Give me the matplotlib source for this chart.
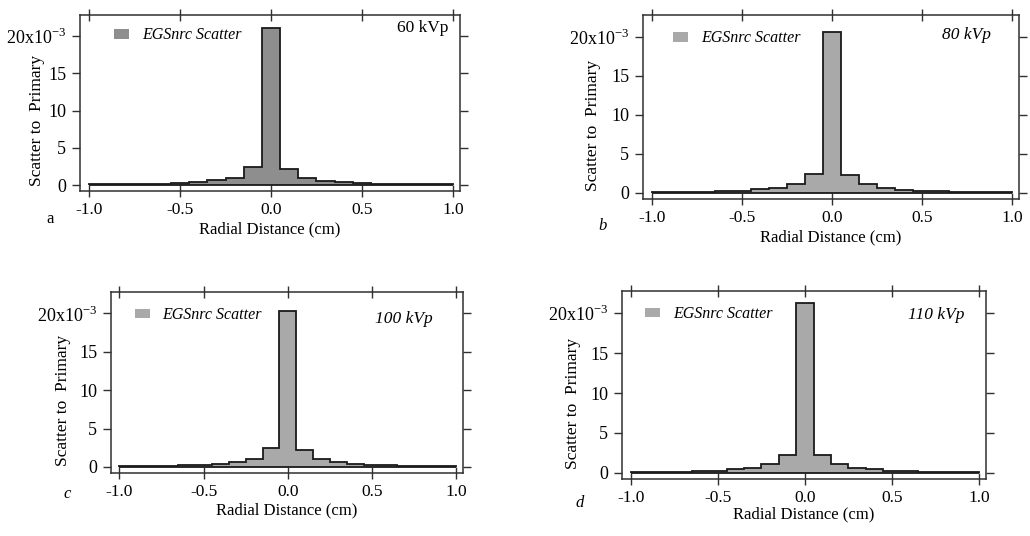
import matplotlib
matplotlib.use("Agg")
import matplotlib.pyplot as plt
from matplotlib.patches import Patch

plt.rcParams["font.family"] = ["Liberation Serif", "DejaVu Serif"]
plt.rcParams["mathtext.fontset"] = "custom"
plt.rcParams["mathtext.rm"] = "Liberation Serif"

# Radial bin edges (cm) and scatter-to-primary ratios (x1e-3)
edges_60 = [-1.0, -0.55, -0.45, -0.35, -0.25, -0.15, -0.05, 0.05, 0.15, 0.25, 0.35, 0.45, 0.55, 1.0]
edges_hi = [-1.0, -0.65, -0.45, -0.35, -0.25, -0.15, -0.05, 0.05, 0.15, 0.25, 0.35, 0.45, 0.65, 1.0]

spr_60kvp = [0.13, 0.27, 0.40, 0.63, 0.98, 2.37, 21.1, 2.15, 0.95, 0.60, 0.40, 0.25, 0.13]
spr_80kvp = [0.13, 0.22, 0.43, 0.65, 1.08, 2.45, 20.6, 2.24, 1.08, 0.65, 0.39, 0.22, 0.13]
spr_100kvp = [0.13, 0.26, 0.43, 0.60, 1.04, 2.43, 20.3, 2.20, 1.04, 0.60, 0.43, 0.26, 0.13]
spr_110kvp = [0.13, 0.25, 0.42, 0.63, 1.09, 2.26, 21.3, 2.26, 1.09, 0.63, 0.42, 0.25, 0.13]

energies = ["60 kVp", "80 kVp", "100 kVp", "110 kVp"]
panel_letters = ["a", "b", "c", "d"]
x_ticks = [-1.0, -0.5, 0.0, 0.5, 1.0]
y_ticks = [0, 5, 10, 15, 20]
y_ticklabels = ["0", "5", "10", "15", r"20x10$^{\mathregular{-3}}$"]

panels = [
    dict(edges=edges_60, vals=spr_60kvp, color="#8e8e8e", rect=[0.0777, 0.6437, 0.369, 0.328],
         leg=(0.06, 0.994), kv=(0.968, 0.926), kv_style="normal", ylab_x=-0.112, xlab_y=-0.22,
         letter=(50, 219), letter_style="normal"),
    dict(edges=edges_hi, vals=spr_80kvp, color="#a9a9a9", rect=[0.6243, 0.6287, 0.365, 0.343],
         leg=(0.05, 0.978), kv=(0.926, 0.89), kv_style="italic", ylab_x=-0.133, xlab_y=-0.21,
         letter=(603, 226), letter_style="italic"),
    dict(edges=edges_hi, vals=spr_100kvp, color="#a9a9a9", rect=[0.1078, 0.1175, 0.3417, 0.3377],
         leg=(0.035, 0.978), kv=(0.915, 0.85), kv_style="italic", ylab_x=-0.136, xlab_y=-0.204,
         letter=(67, 494), letter_style="italic"),
    dict(edges=edges_hi, vals=spr_110kvp, color="#a9a9a9", rect=[0.6039, 0.1063, 0.3534, 0.3507],
         leg=(0.032, 0.979), kv=(0.942, 0.872), kv_style="italic", ylab_x=-0.135, xlab_y=-0.19,
         letter=(580, 503), letter_style="italic"),
]

W, H = 1030, 536
fig = plt.figure(figsize=(W / 100, H / 100), dpi=100)
spine_col = "#303030"

for p, kv, letter in zip(panels, energies, panel_letters):
    ax = fig.add_axes(p["rect"])
    ax.stairs(p["vals"], p["edges"], fill=True, facecolor=p["color"], edgecolor="none")
    ax.stairs(p["vals"], p["edges"], baseline=0, fill=False, edgecolor="#1a1a1a", linewidth=1.3)
    ax.hlines(0, p["edges"][0], p["edges"][-1], color="#1a1a1a", linewidth=1.3)

    ax.set_xlim(-1.05, 1.04)
    ax.set_ylim(-0.8, 22.8)
    ax.set_xticks(x_ticks)
    ax.set_xticklabels([f"{v:.1f}" for v in x_ticks])
    ax.set_yticks(y_ticks)
    ax.set_yticklabels(y_ticklabels)

    for s in ax.spines.values():
        s.set_color(spine_col)
        s.set_linewidth(1.1)

    ax.tick_params(axis="x", which="major", direction="inout", length=9, width=1.0,
                   color=spine_col, labelsize=12.5, pad=3.5, top=True, labeltop=False)
    ax.tick_params(axis="y", which="major", direction="out", length=6, width=1.0,
                   color=spine_col, labelsize=13, pad=4, right=True, labelright=False)

    ax.set_xlabel("Radial Distance (cm)", fontsize=12)
    ax.xaxis.set_label_coords(0.5, p["xlab_y"])
    ax.xaxis.label.set_va("center")
    ax.set_ylabel("Scatter to  Primary", fontsize=12.5)
    ax.yaxis.set_label_coords(p["ylab_x"], 0.40)
    ax.yaxis.label.set_va("center")

    handle = Patch(facecolor=p["color"], edgecolor="none", label="EGSnrc Scatter")
    ax.legend(handles=[handle], loc="upper left", bbox_to_anchor=p["leg"], frameon=False,
              handlelength=0.95, handleheight=0.55, handletextpad=0.8, borderpad=0.2,
              prop={"style": "italic", "size": 11.5})

    ax.text(p["kv"][0], p["kv"][1], kv, transform=ax.transAxes, ha="right", va="center",
            fontsize=12.5, style=p["kv_style"])

    fig.text(p["letter"][0] / W, 1 - p["letter"][1] / H, letter, ha="center", va="center",
             fontsize=12, style=p["letter_style"])

fig.savefig("out.png", dpi=100)
